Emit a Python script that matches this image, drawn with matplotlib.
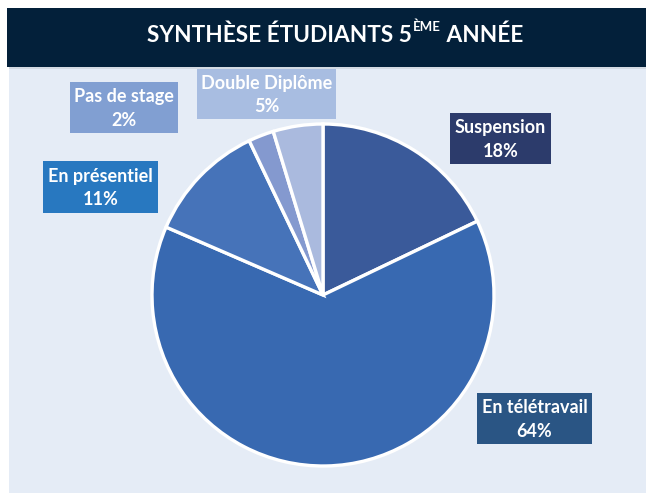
import matplotlib
matplotlib.use("Agg")
import matplotlib.pyplot as plt
from matplotlib.patches import Rectangle
from matplotlib.text import Annotation

# ---- data ----
categories = ["Suspension", "En télétravail", "En présentiel", "Pas de stage", "Double Diplôme"]
values = [17.9, 63.6, 11.4, 2.4, 4.7]
pct_labels = ["18%", "64%", "11%", "2%", "5%"]
wedge_colors = ["#3A5A9A", "#3869B1", "#4673B9", "#8499CF", "#AABADE"]
box_colors = ["#2C3B6B", "#2A5584", "#2878C0", "#819FD2", "#A8BDE1"]
# label box placement (pixels: x0, y0(top), x1, y1(bottom))
box_px = [(450, 113, 551, 164), (477, 393, 592, 444), (43, 161, 158, 213),
          (70, 82, 178, 133), (197, 69, 336, 119)]

W, H = 646, 493
fig = plt.figure(figsize=(W / 100, H / 100), dpi=100)
fig.patch.set_facecolor("white")

def fx(x):
    return x / W

def fy(y):
    return 1 - y / H

# background panel
fig.add_artist(Rectangle((fx(9), fy(493)), fx(646) - fx(9), fy(67) - fy(493),
                         transform=fig.transFigure, facecolor="#E5ECF6", edgecolor="none", zorder=0))
# title bar
fig.add_artist(Rectangle((fx(7), fy(67)), fx(646) - fx(7), fy(8) - fy(67),
                         transform=fig.transFigure, facecolor="#03203A", edgecolor="none", zorder=1))
fig.add_artist(Rectangle((fx(9), fy(69)), fx(646) - fx(9), fy(67) - fy(69),
                         transform=fig.transFigure, facecolor="#D3DAE3", edgecolor="none", zorder=1))

# pie
cx, cy, R = 323, 295, 175
ax = fig.add_axes([fx(cx - R), fy(cy + R), 2 * R / W, 2 * R / H])
ax.pie(values, colors=wedge_colors, startangle=90, counterclock=False, radius=1.71,
       wedgeprops=dict(edgecolor="white", linewidth=2.4), center=(0, 0), frame=False)
ax.set_xlim(-1.75, 1.75)
ax.set_ylim(-1.75, 1.75)
ax.set_aspect("equal")
ax.axis("off")

# title with superscript
tfont = dict(family="Lato", weight="bold", color="white")
t1 = fig.text(fx(147), fy(42), "SYNTHÈSE ÉTUDIANTS 5", fontsize=16.3, ha="left", va="baseline",
              zorder=5, **tfont)
a2 = Annotation("ÈME", xy=(1, 0.62), xycoords=t1, xytext=(1, 0), textcoords="offset points",
                fontsize=9.5, ha="left", va="bottom", annotation_clip=False, zorder=5, **tfont)
fig.add_artist(a2)
a3 = Annotation(" ANNÉE", xy=(1, 0), xycoords=(a2, t1), fontsize=16.3, ha="left", va="bottom",
                annotation_clip=False, zorder=5, **tfont)
fig.add_artist(a3)

# labels
for cat, pct, col, (x0, y0, x1, y1) in zip(categories, pct_labels, box_colors, box_px):
    fig.add_artist(Rectangle((fx(x0), fy(y1)), fx(x1) - fx(x0), fy(y0) - fy(y1),
                             transform=fig.transFigure, facecolor=col, edgecolor="none", zorder=3))
    fig.text(fx((x0 + x1) / 2), fy((y0 + y1) / 2 + 1), f"{cat}\n{pct}", ha="center", va="center",
             fontsize=13, family="Lato", weight="bold", color="white", linespacing=1.45, zorder=4)

fig.savefig("out.png", dpi=100, facecolor="white")
